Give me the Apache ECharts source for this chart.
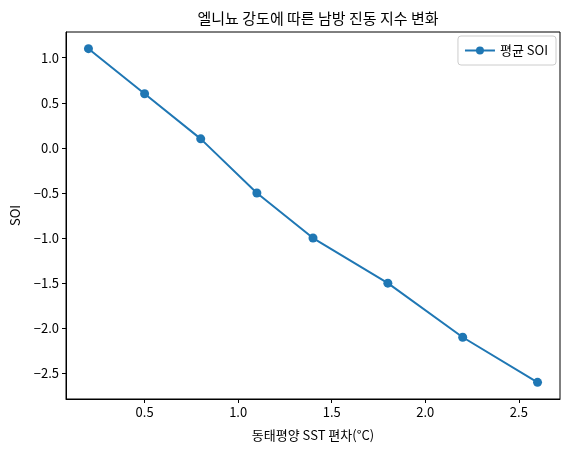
<!DOCTYPE html>
<html>
<head>
<meta charset="utf-8">
<script src="https://cdn.jsdelivr.net/npm/echarts@6/dist/echarts.min.js"></script>
<style>
  body { margin: 0; background: #fff; }
  #main { width: 572px; height: 455px; }
</style>
</head>
<body>
<div id="main"></div>
<script>
// 데이터
const sstAnomaly = [0.2, 0.5, 0.8, 1.1, 1.4, 1.8, 2.2, 2.6];
const soiValues = [1.1, 0.6, 0.1, -0.5, -1.0, -1.5, -2.1, -2.6];
const xTicks = [0.5, 1.0, 1.5, 2.0, 2.5];
const yTicks = [-2.5, -2.0, -1.5, -1.0, -0.5, 0.0, 0.5, 1.0];

const font = "'Noto Sans CJK KR', 'Noto Sans', sans-serif";
const fmt = v => v.toFixed(1).replace('-', '\u2212');
const xMin = 0.08, xMax = 2.72, yMin = -2.785, yMax = 1.285;

let myChart = echarts.init(document.getElementById("main"));
let option = {
  animation: false,
  textStyle: { fontFamily: font },
  title: {
    text: "엘니뇨 강도에 따른 남방 진동 지수 변화",
    left: 313,
    textAlign: "center",
    top: 6,
    textStyle: { fontFamily: font, fontSize: 15, fontWeight: "normal", color: "#000" }
  },
  legend: {
    right: 16,
    top: 36,
    orient: "vertical",
    itemWidth: 30,
    itemHeight: 10,
    itemGap: 8,
    padding: [8, 8, 8, 6],
    borderColor: "#ccc",
    borderWidth: 1,
    borderRadius: 3,
    textStyle: { fontFamily: font, fontSize: 13, color: "#000" },
    data: ["평균 SOI"]
  },
  grid: { left: 66, right: 12, top: 32, bottom: 56 },
  xAxis: {
    type: "value",
    min: xMin,
    max: xMax,
    name: "동태평양 SST 편차(°C)",
    nameLocation: "middle",
    nameGap: 30,
    nameTextStyle: { fontFamily: font, fontSize: 13, color: "#000" },
    axisLine: { show: true, onZero: false, lineStyle: { color: "#000" } },
    axisTick: { show: true, length: 4, customValues: xTicks, lineStyle: { color: "#000" } },
    axisLabel: { customValues: xTicks, formatter: fmt, fontSize: 13, color: "#000", margin: 7 },
    splitLine: { show: false }
  },
  yAxis: {
    type: "value",
    min: yMin,
    max: yMax,
    name: "SOI",
    nameLocation: "middle",
    nameGap: 44,
    nameTextStyle: { fontFamily: font, fontSize: 13, color: "#000" },
    axisLine: { show: true, onZero: false, lineStyle: { color: "#000" } },
    axisTick: { show: true, length: 4, customValues: yTicks, lineStyle: { color: "#000" } },
    axisLabel: { customValues: yTicks, formatter: fmt, fontSize: 13, color: "#000", margin: 7 },
    splitLine: { show: false }
  },
  series: [
    {
      name: "평균 SOI",
      type: "line",
      data: sstAnomaly.map((x, i) => [x, soiValues[i]]),
      symbol: "circle",
      symbolSize: 9,
      itemStyle: { color: "#1f77b4" },
      lineStyle: { color: "#1f77b4", width: 2 }
    }
  ]
};
myChart.setOption(option);

// 축 범위에서 테두리 계산
const p0 = myChart.convertToPixel({ gridIndex: 0 }, [xMin, yMax]);
const p1 = myChart.convertToPixel({ gridIndex: 0 }, [xMax, yMin]);
myChart.setOption({
  graphic: [{
    type: "rect",
    silent: true,
    z: 1,
    shape: { x: p0[0], y: p0[1], width: p1[0] - p0[0], height: p1[1] - p0[1] },
    style: { fill: null, stroke: "#000", lineWidth: 1 }
  }]
});
</script>
</body>
</html>
